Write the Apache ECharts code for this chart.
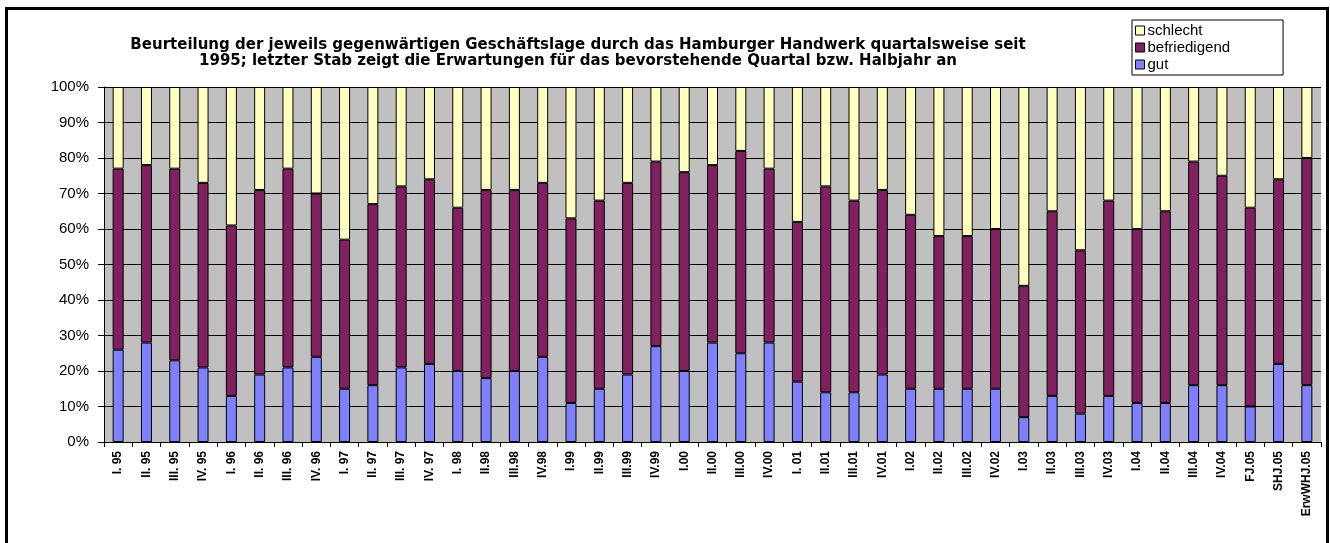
<!DOCTYPE html>
<html>
<head>
<meta charset="utf-8">
<script src="https://cdn.jsdelivr.net/npm/echarts@6/dist/echarts.min.js"></script>
<style>
  html, body { margin: 0; padding: 0; background: #fff; }
  #chart { width: 1330px; height: 543px; }
</style>
</head>
<body>
<div id="chart"></div>
<script>
// Quartale 1995 - 2005
var categories = [
  "I. 95", "II. 95", "III. 95", "IV. 95",
  "I. 96", "II. 96", "III. 96", "IV. 96",
  "I. 97", "II. 97", "III. 97", "IV. 97",
  "I. 98", "II.98", "III.98", "IV.98",
  "I.99", "II.99", "III.99", "IV.99",
  "I.00", "II.00", "III.00", "IV.00",
  "I. 01", "II.01", "III.01", "IV.01",
  "I.02", "II.02", "III.02", "IV.02",
  "I.03", "II.03", "III.03", "IV.03",
  "I.04", "II.04", "III.04", "IV.04",
  "FJ.05", "SHJ.05", "ErwWHJ.05"
];

var gut = [
  26, 28, 23, 21, 13, 19, 21, 24, 15, 16, 21, 22,
  20, 18, 20, 24, 11, 15, 19, 27, 20, 28, 25, 28,
  17, 14, 14, 19, 15, 15, 15, 15, 7, 13, 8, 13,
  11, 11, 16, 16, 10, 22, 16
];

var befriedigend = [
  51, 50, 54, 52, 48, 52, 56, 46, 42, 51, 51, 52,
  46, 53, 51, 49, 52, 53, 54, 52, 56, 50, 57, 49,
  45, 58, 54, 52, 49, 43, 43, 45, 37, 52, 46, 55,
  49, 54, 63, 59, 56, 52, 64
];

var schlecht = [
  23, 22, 23, 27, 39, 29, 23, 30, 43, 33, 28, 26,
  34, 29, 29, 27, 37, 32, 27, 21, 24, 22, 18, 23,
  38, 28, 32, 29, 36, 42, 42, 40, 56, 35, 46, 32,
  40, 35, 21, 25, 34, 26, 20
];

var yTicks = [0, 10, 20, 30, 40, 50, 60, 70, 80, 90, 100];

var chart = echarts.init(document.getElementById("chart"));
var fontFam = "Liberation Sans, Arial, sans-serif";

function barSeries(name, data, color) {
  return {
    name: name,
    type: "bar",
    stack: "total",
    barWidth: 11,
    data: data,
    itemStyle: {
      color: color,
      borderColor: "#000",
      borderWidth: 1,
    },
  };
}

var option = {
  animation: false,
  backgroundColor: "#fff",
  title: {
    text: "Beurteilung der jeweils gegenwärtigen Geschäftslage durch das Hamburger Handwerk quartalsweise seit\n1995; letzter Stab zeigt die Erwartungen für das bevorstehende Quartal bzw. Halbjahr an",
    left: 578,
    top: 37,
    padding: 0,
    textAlign: "center",
    textStyle: {
      fontFamily: "DejaVu Sans, sans-serif",
      fontWeight: "bold",
      fontSize: 15,
      lineHeight: 16,
      color: "#000",
    },
  },
  legend: {
    data: ["schlecht", "befriedigend", "gut"],
    orient: "vertical",
    left: 1132,
    top: 20,
    padding: [3, 53, 3, 3],
    itemGap: 2,
    itemWidth: 9,
    itemHeight: 9,
    icon: "rect",
    borderColor: "#000",
    borderWidth: 1,
    backgroundColor: "#fff",
    textStyle: {
      fontFamily: fontFam,
      fontSize: 15,
      lineHeight: 15,
      color: "#000",
      padding: [0, 0, 0, -2],
    },
    itemStyle: {
      borderColor: "#000",
      borderWidth: 1,
    },
  },
  grid: {
    left: 104,
    right: 9,
    top: 87,
    bottom: 101,
    show: true,
    backgroundColor: "#C0C0C0",
    borderWidth: 0,
  },
  xAxis: {
    type: "category",
    data: categories,
    axisLine: { lineStyle: { color: "#000", width: 1 } },
    axisTick: { show: true, length: 5, lineStyle: { color: "#000" } },
    axisLabel: {
      interval: 0,
      rotate: 90,
      margin: 9,
      fontFamily: fontFam,
      fontWeight: "bold",
      fontSize: 12,
      color: "#000",
    },
  },
  yAxis: {
    type: "value",
    min: yTicks[0],
    max: yTicks[yTicks.length - 1],
    interval: 10,
    axisLine: { show: true, lineStyle: { color: "#000", width: 1 } },
    axisTick: { show: true, length: 6, lineStyle: { color: "#000" } },
    axisLabel: {
      margin: 15,
      formatter: "{value}%",
      fontFamily: fontFam,
      fontSize: 15,
      color: "#000",
    },
    splitLine: { show: true, lineStyle: { color: "#000", width: 1 } },
  },
  series: [
    barSeries("gut", gut, "#8080FF"),
    barSeries("befriedigend", befriedigend, "#802060"),
    barSeries("schlecht", schlecht, "#FFFFC0"),
  ],
  graphic: [
    {
      type: "rect",
      shape: { x: 6.5, y: 8.5, width: 1321, height: 545 },
      style: { fill: null, stroke: "#000", lineWidth: 3 },
      silent: true,
    },
  ],
};

chart.setOption(option);
</script>
</body>
</html>
